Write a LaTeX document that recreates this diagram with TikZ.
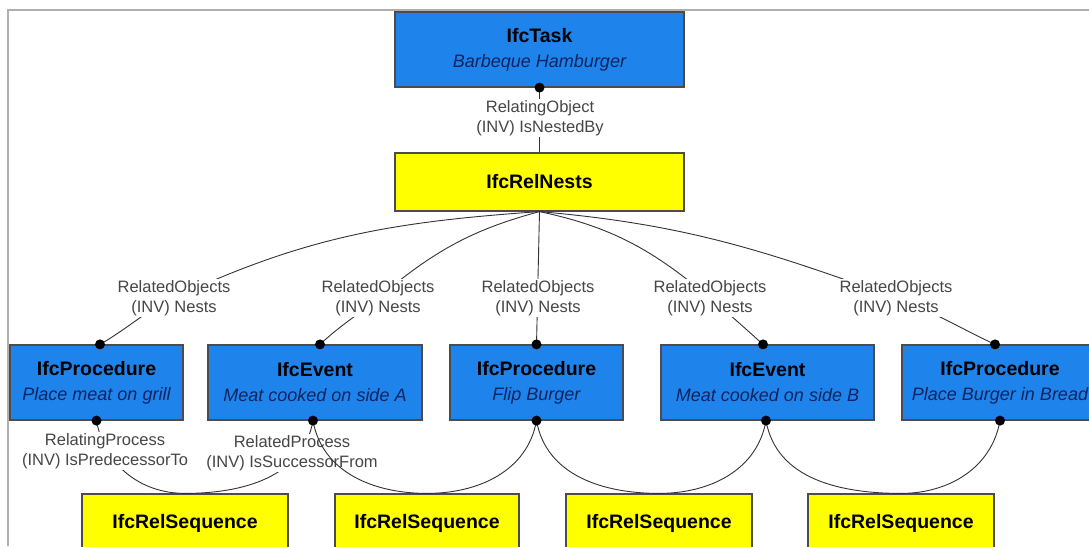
\documentclass[tikz,border=0pt]{standalone}
\usepackage{fontspec}
\setmainfont{Liberation Sans}
\definecolor{ifcblue}{RGB}{30,132,235}
\definecolor{ifcyellow}{RGB}{255,255,0}
\definecolor{subtext}{RGB}{15,35,95}
\definecolor{reltext}{RGB}{70,70,70}
\definecolor{framegray}{RGB}{175,175,175}
\newcommand\objtext[2]{{\fontsize{19.5}{25}\selectfont\bfseries #1}\\{\fontsize{18}{25}\selectfont\itshape\color{subtext}#2}}
\begin{document}
\begin{tikzpicture}[x=1pt,y=1pt,
  box/.style={draw=black!70, line width=1.2pt, align=center, inner sep=0pt, text=black},
  objbox/.style={box, fill=ifcblue, minimum height=75pt, font=\fontsize{18}{25}\selectfont},
  relbox/.style={box, fill=ifcyellow, minimum height=58pt, font=\fontsize{19.5}{24}\selectfont\bfseries},
  conn/.style={draw=black!80, line width=0.9pt},
  rel/.style={fill=white, text=reltext, align=center, inner sep=1.5pt, font=\fontsize{16.5}{20}\selectfont},
  dot/.style={fill=black}]
\useasboundingbox (0,0) rectangle (1089,-546);
\clip (0,0) rectangle (1089,-546);
\fill[white] (0,0) rectangle (1089,-546);
% page frame
\draw[framegray, line width=2pt] (8,-546) -- (8,-10) -- (1089,-10);

% objects and relationships
\node[objbox, minimum width=289pt] (task) at (539.5,-49.5) {\objtext{IfcTask}{Barbeque Hamburger}};
\node[relbox, minimum width=289pt] (nests) at (539.5,-182) {IfcRelNests};

\node[objbox, minimum width=173pt] (p1) at (96.5,-382.5) {\objtext{IfcProcedure}{Place meat on grill}};
\node[objbox, minimum width=214pt] (e1) at (315,-382.5) {\objtext{IfcEvent}{Meat cooked on side A}};
\node[objbox, minimum width=173pt] (p2) at (536.5,-382.5) {\objtext{IfcProcedure}{Flip Burger}};
\node[objbox, minimum width=213pt] (e2) at (767.5,-382.5) {\objtext{IfcEvent}{Meat cooked on side B}};
\node[objbox, minimum width=196pt] (p3) at (1000,-382.5) {\objtext{IfcProcedure}{Place Burger in Bread}};

\node[relbox, minimum width=206pt] (sa) at (185,-523) {IfcRelSequence};
\node[relbox, minimum width=184pt] (sb) at (427,-523) {IfcRelSequence};
\node[relbox, minimum width=186pt] (sc) at (659,-523) {IfcRelSequence};
\node[relbox, minimum width=186pt] (sd) at (901,-523) {IfcRelSequence};

% attachment points
\coordinate (td) at (task.south);
\coordinate (d1) at ([xshift=3.5pt]p1.north);
\coordinate (d2) at ([xshift=5pt]e1.north);
\coordinate (d3) at (p2.north);
\coordinate (d4) at ([xshift=-4.5pt]e2.north);
\coordinate (d5) at ([xshift=-5pt]p3.north);
\coordinate (b1) at (p1.south);
\coordinate (b2) at ([xshift=-2pt]e1.south);
\coordinate (b3) at (p2.south);
\coordinate (b4) at ([xshift=-1.5pt]e2.south);
\coordinate (b5) at (p3.south);

% label positions on the nesting connectors
\coordinate (L1) at (174,-298);
\coordinate (L2) at (378,-298);
\coordinate (L3) at (538,-298);
\coordinate (L4) at (710,-298);
\coordinate (L5) at (896,-298);

% nesting connectors
\draw[conn] (td) -- (nests.north);
\draw[conn] (nests.south) to[out=184,in=25] (L1) to[out=205,in=30] (d1);
\draw[conn] (nests.south) to[out=195,in=40] (L2) to[out=220,in=43] (d2);
\draw[conn] (nests.south) -- (d3);
\draw[conn] (nests.south) to[out=-12,in=140] (L4) to[out=-40,in=138] (d4);
\draw[conn] (nests.south) to[out=-5,in=160] (L5) to[out=-20,in=155] (d5);

% sequence connectors of the first step
\draw[conn] (b1) to[out=-80,in=180] (sa.north);
\draw[conn] (b2) to[out=-100,in=0] (sa.north);

% connector labels
\node[rel] (lo) at (540,-118) {RelatingObject\\(INV) IsNestedBy};
\node[rel] (n1) at (L1) {RelatedObjects\\(INV) Nests};
\node[rel] (n2) at (L2) {RelatedObjects\\(INV) Nests};
\node[rel] (n3) at (L3) {RelatedObjects\\(INV) Nests};
\node[rel] (n4) at (L4) {RelatedObjects\\(INV) Nests};
\node[rel] (n5) at (L5) {RelatedObjects\\(INV) Nests};
\node[rel] (rp1) at (105,-451) {RelatingProcess\\(INV) IsPredecessorTo};
\node[rel] (rp2) at (292,-453) {RelatedProcess\\(INV) IsSuccessorFrom};

% remaining sequence connectors
\draw[conn] (b2) to[out=-80,in=180] (sb.north);
\draw[conn] (b3) to[out=-100,in=0] (sb.north);
\draw[conn] (b3) to[out=-80,in=180] (sc.north);
\draw[conn] (b4) to[out=-100,in=0] (sc.north);
\draw[conn] (b4) to[out=-80,in=180] (sd.north);
\draw[conn] (b5) to[out=-100,in=0] (sd.north);

% connection dots
\foreach \p in {td,d1,d2,d3,d4,d5,b1,b2,b3,b4,b5}
  \fill[dot] (\p) circle (5);
\end{tikzpicture}
\end{document}
